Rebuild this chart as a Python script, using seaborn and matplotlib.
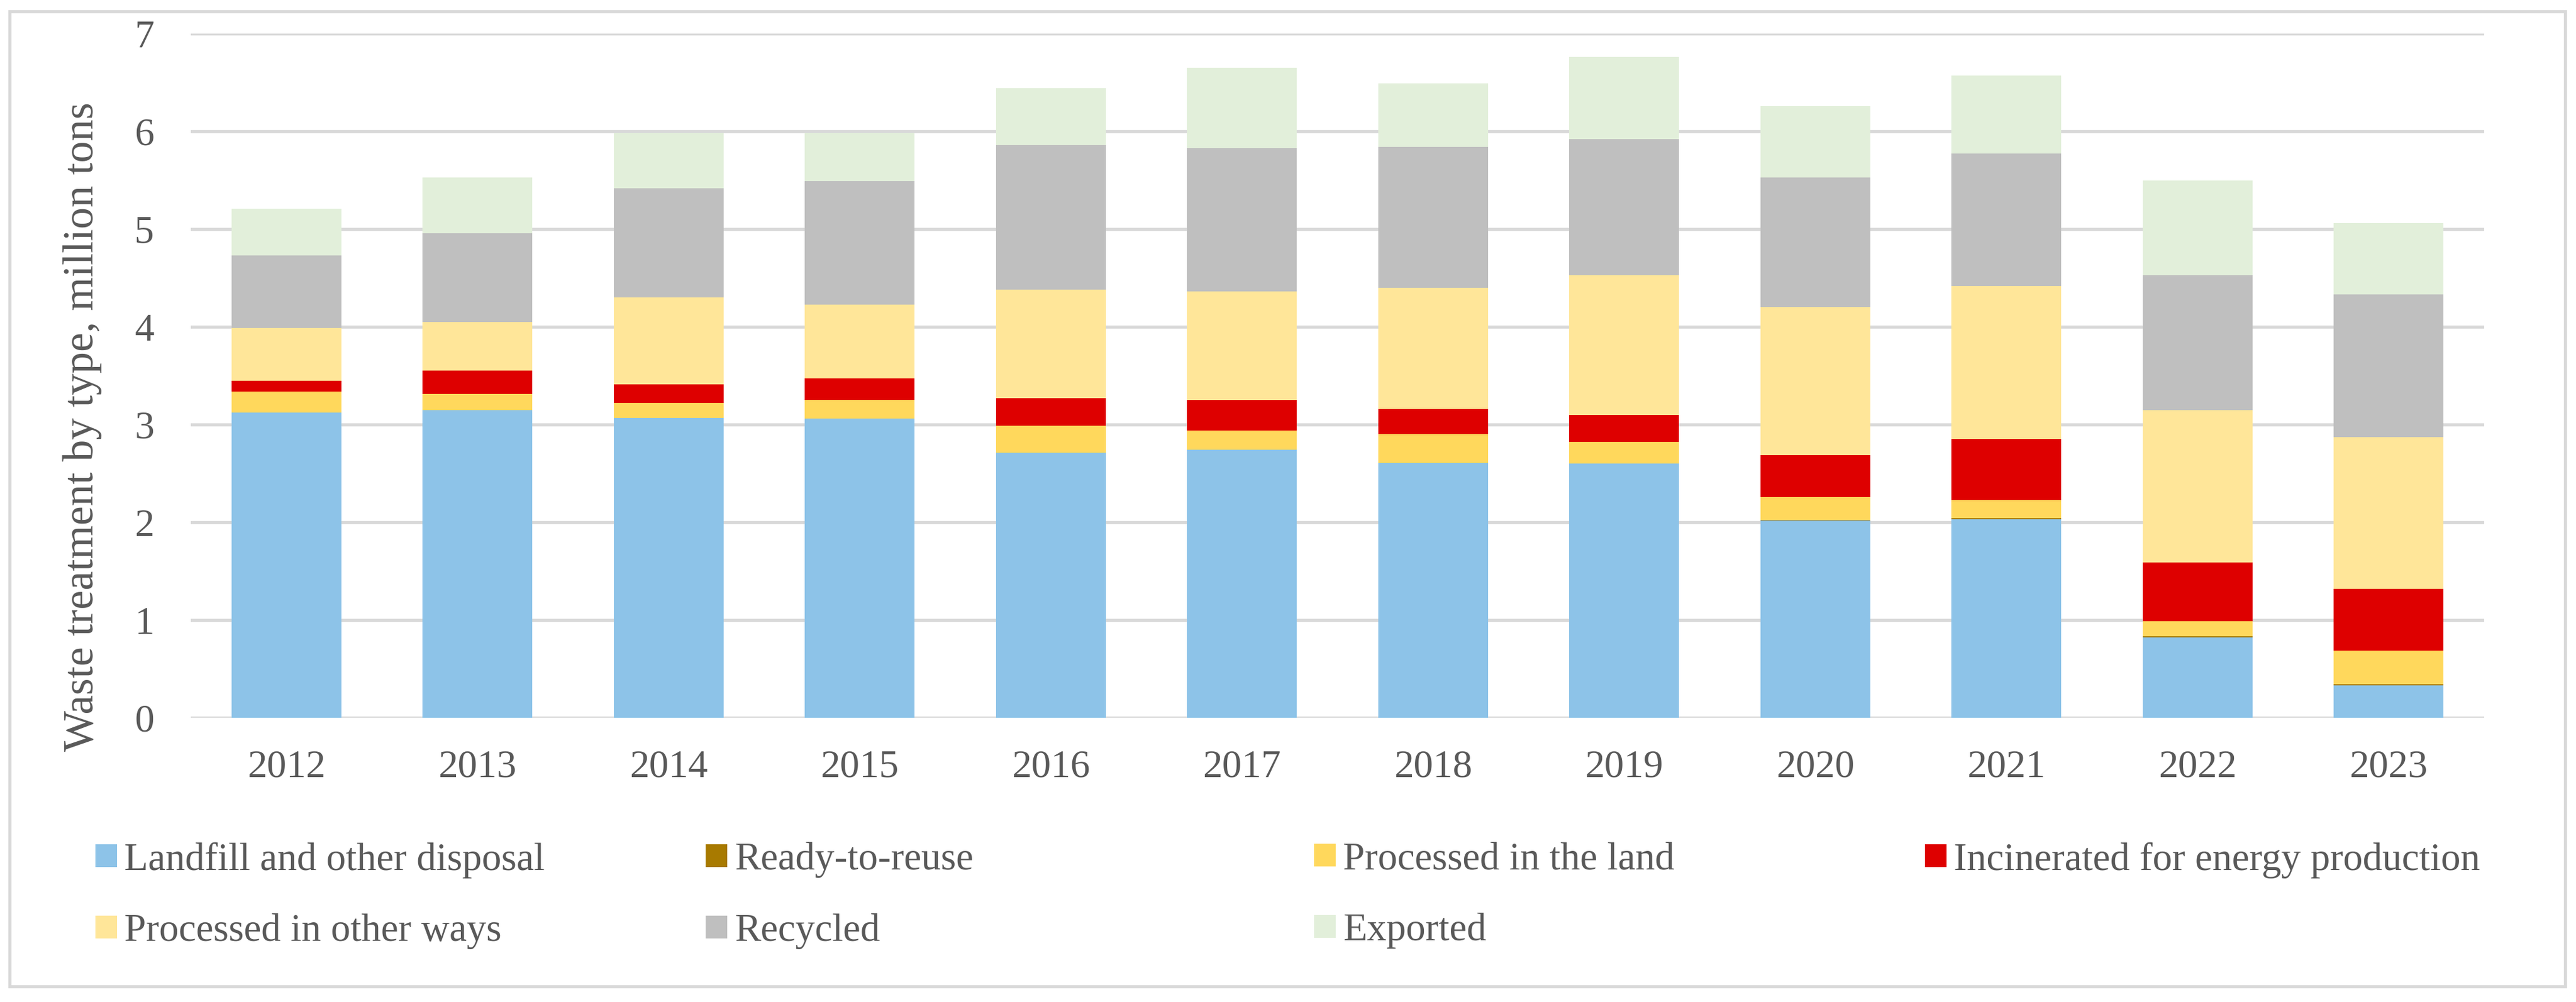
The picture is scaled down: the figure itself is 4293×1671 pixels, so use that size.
import pandas as pd
import matplotlib
matplotlib.use('Agg')
import matplotlib.pyplot as plt
from matplotlib.patches import Patch, Rectangle
import seaborn as sb

years = ['2012', '2013', '2014', '2015', '2016', '2017', '2018', '2019', '2020', '2021', '2022', '2023']

# million tons per treatment type
landfill = [3.12, 3.15, 3.07, 3.06, 2.71, 2.74, 2.61, 2.60, 2.02, 2.03, 0.82, 0.33]
reuse = [0.0, 0.0, 0.0, 0.0, 0.0, 0.0, 0.0, 0.0, 0.005, 0.012, 0.012, 0.012]
land = [0.22, 0.16, 0.15, 0.19, 0.28, 0.20, 0.29, 0.22, 0.235, 0.188, 0.158, 0.348]
incinerated = [0.11, 0.24, 0.19, 0.22, 0.28, 0.31, 0.26, 0.28, 0.43, 0.62, 0.60, 0.63]
other_ways = [0.54, 0.50, 0.89, 0.76, 1.11, 1.11, 1.24, 1.43, 1.51, 1.57, 1.56, 1.55]
recycled = [0.74, 0.91, 1.12, 1.26, 1.48, 1.47, 1.44, 1.39, 1.33, 1.35, 1.38, 1.46]
exported = [0.48, 0.57, 0.56, 0.49, 0.58, 0.82, 0.65, 0.84, 0.73, 0.80, 0.97, 0.73]

labels = ['Landfill and other disposal', 'Ready-to-reuse', 'Processed in the land',
          'Incinerated for energy production', 'Processed in other ways', 'Recycled', 'Exported']
clrs = ['#8DC3E8', '#A87A00', '#FFD85C', '#DE0000', '#FFE699', '#BFBFBF', '#E2EFDA']

series = [landfill, reuse, land, incinerated, other_ways, recycled, exported]

df = pd.DataFrame({'year': years})
running = [0.0] * len(years)
for lab, vals in zip(labels, series):
    running = [r + v for r, v in zip(running, vals)]
    df[lab] = running

sb.set_style('white')
plt.rcParams['font.family'] = ['Liberation Serif', 'DejaVu Serif']
txt_clr = '#595959'
grid_clr = '#D9D9D9'

fig = plt.figure(figsize=(42.93, 16.71), dpi=100)
ax = fig.add_axes([318 / 4293, 1 - 1197 / 1671, (4140 - 318) / 4293, (1197 - 56) / 1671])

# stacked look: draw cumulative totals from the top layer down
for lab, c in reversed(list(zip(labels, clrs))):
    sb.barplot(data=df, x='year', y=lab, order=years, color=c, saturation=1,
               width=0.575, errorbar=None, linewidth=0, ax=ax)

ax.set_xlim(-0.5, len(years) - 0.5)
ax.set_ylim(0, 7)
ax.set_yticks(range(0, 8))
ax.set_axisbelow(True)
ax.yaxis.grid(True, color=grid_clr, linewidth=3.8)
ax.xaxis.grid(False)
for s in ax.spines.values():
    s.set_visible(False)
ax.tick_params(axis='both', length=0, labelsize=47, labelcolor=txt_clr)
ax.tick_params(axis='y', pad=44)
ax.tick_params(axis='x', pad=38)
ax.set_xlabel('')
ax.set_ylabel('')

fig.text(137 / 4293, 1 - 712 / 1671, 'Waste treatment by type, million tons', rotation=90,
         ha='center', va='center', fontsize=52, color=txt_clr)

handles = [Patch(facecolor=c, edgecolor='none', label=l) for l, c in zip(labels, clrs)]
col_x = [159, 1176, 2190, 3208]
for i, x in enumerate(col_x):
    hs = [handles[i]] + ([handles[i + 4]] if i + 4 < len(handles) else [])
    fig.legend(handles=hs, loc='upper left', bbox_to_anchor=(x / 4293, 1 - 1404 / 1671),
               frameon=False, prop={'family': 'Liberation Serif', 'size': 47},
               labelcolor=txt_clr, handlelength=0.55, handleheight=0.52,
               handletextpad=0.18, labelspacing=0.9, borderpad=0, borderaxespad=0)

fig.patches.append(Rectangle((16 / 4293, 1 - 1645 / 1671), (4275 - 16) / 4293, (1645 - 19) / 1671,
                             transform=fig.transFigure, fill=False, edgecolor=grid_clr, linewidth=3.8))

fig.savefig('out.png', dpi=100, facecolor='white')
